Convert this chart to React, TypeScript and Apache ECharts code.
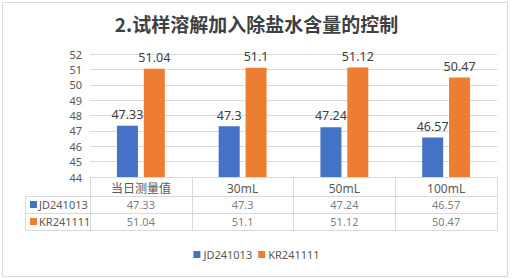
import React, { useEffect, useRef } from "react";
import * as echarts from "echarts";

const title = "2.试样溶解加入除盐水含量的控制";
const categories = ["当日测量值", "30mL", "50mL", "100mL"];
const seriesNames = ["JD241013", "KR241111"];
const jdValues = [47.33, 47.3, 47.24, 46.57];
const krValues = [51.04, 51.1, 51.12, 50.47];
const yTicks = { min: 44, max: 52, interval: 1 };
const colors = ["#4472C4", "#ED7D31"];

const FONT = "'Noto Sans', 'Noto Sans CJK SC', sans-serif";
const TXT = "#595959";
const LINE = "#d9d9d9";

export default function App() {
  const ref = useRef<HTMLDivElement>(null);
  useEffect(() => {
    if (!ref.current) return;
    const chart = echarts.init(ref.current, undefined, { renderer: "svg" });
    const tableRows = [jdValues, krValues];
    const tableData: any[] = [];
    tableRows.forEach((row, r) =>
      row.forEach((v, c) => tableData.push([categories[c], seriesNames[r], v]))
    );
    chart.setOption({
      animation: false,
      textStyle: { fontFamily: FONT },
      title: {
        text: title,
        left: "center",
        top: 9,
        textStyle: { fontSize: 19, fontWeight: "bold", color: "#404040", fontFamily: "'Noto Sans CJK SC', sans-serif" },
      },
      legend: {
        data: seriesNames,
        bottom: 14,
        left: "center",
        icon: "rect",
        itemWidth: 7,
        itemHeight: 7,
        itemGap: 6,
        textStyle: { fontSize: 11, color: TXT, fontFamily: FONT, padding: [0, 0, 0, -2] },
      },
      grid: [
        { left: 90, right: 16, top: 54, height: 123 },
        { left: 90, right: 16, top: 196, height: 34 },
      ],
      xAxis: [
        {
          type: "category",
          gridIndex: 0,
          data: categories,
          axisLine: { lineStyle: { color: LINE } },
          axisTick: { show: true, length: 53, lineStyle: { color: LINE } },
          axisLabel: { color: TXT, fontSize: 12, margin: 5, fontFamily: FONT },
        },
        {
          type: "category",
          gridIndex: 1,
          data: categories,
          show: false,
        },
      ],
      yAxis: [
        {
          type: "value",
          gridIndex: 0,
          min: yTicks.min,
          max: yTicks.max,
          interval: yTicks.interval,
          axisLine: { show: false },
          axisTick: { show: false },
          splitLine: { lineStyle: { color: LINE } },
          axisLabel: { color: TXT, fontSize: 11, lineHeight: 13, margin: 8, fontFamily: FONT },
        },
        {
          type: "category",
          gridIndex: 1,
          inverse: true,
          data: seriesNames,
          axisLine: { show: false },
          axisTick: { show: false },
          axisLabel: {
            align: "left",
            margin: 60,
            fontSize: 11,
            color: TXT,
            fontFamily: FONT,
            formatter: (v: string) => `{${v === seriesNames[0] ? "a" : "b"}|}{t|${v}}`,
            rich: {
              a: { backgroundColor: colors[0], width: 7, height: 7 },
              b: { backgroundColor: colors[1], width: 7, height: 7 },
              t: { fontSize: 11, color: TXT, padding: [0, 0, 0, 2], fontFamily: FONT },
            },
          },
        },
      ],
      series: [
        {
          name: seriesNames[0],
          type: "bar",
          data: jdValues,
          barWidth: 21,
          barGap: "28%",
          itemStyle: { color: colors[0] },
          label: { show: true, position: "top", distance: 5, fontSize: 12.5, color: "#404040", fontFamily: FONT },
        },
        {
          name: seriesNames[1],
          type: "bar",
          data: krValues,
          barWidth: 21,
          barGap: "28%",
          itemStyle: { color: colors[1] },
          label: { show: true, position: "top", distance: 5, fontSize: 12.5, color: "#404040", fontFamily: FONT },
        },
        {
          type: "scatter",
          xAxisIndex: 1,
          yAxisIndex: 1,
          symbolSize: 0,
          data: tableData,
          label: {
            show: true,
            position: "inside",
            fontSize: 11,
            color: TXT,
            fontFamily: FONT,
            formatter: (p: any) => String(p.value[2]),
          },
          silent: true,
        },
      ],
      graphic: [
        { type: "rect", shape: { x: 2.5, y: 2.5, width: 505, height: 274 }, style: { fill: "none", stroke: "#d9d9d9", lineWidth: 1 }, silent: true },
        { type: "rect", shape: { x: 25.5, y: 196.5, width: 472, height: 34 }, style: { fill: "none", stroke: LINE, lineWidth: 1 }, silent: true },
        { type: "line", shape: { x1: 25, y1: 213.5, x2: 497, y2: 213.5 }, style: { stroke: LINE, lineWidth: 1 }, silent: true },
      ],
    });
    return () => chart.dispose();
  }, []);
  return <div ref={ref} style={{ position: "fixed", left: 0, top: 0, width: 513, height: 279, background: "#fff" }} />;
}
